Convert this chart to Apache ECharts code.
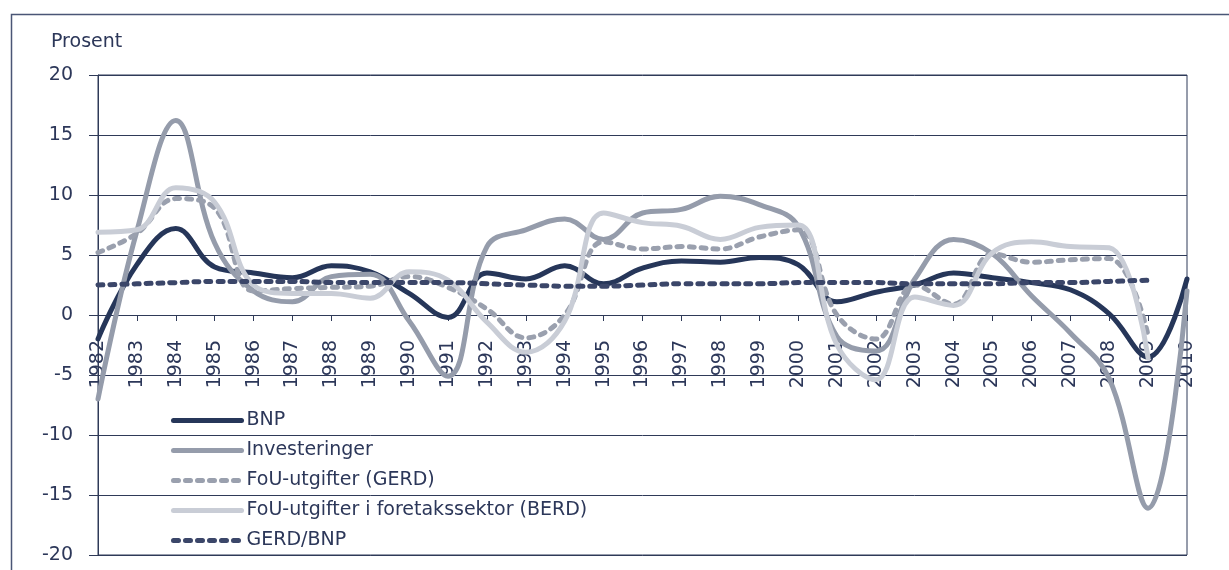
<!DOCTYPE html>
<html>
<head>
<meta charset="utf-8">
<script src="https://cdn.jsdelivr.net/npm/echarts@6/dist/echarts.min.js"></script>
<style>
  html, body { margin: 0; padding: 0; background: #fff; }
  #chart { width: 1229px; height: 570px; }
</style>
</head>
<body>
<div id="chart"></div>
<script>
// årstall langs x-aksen
const years = ['1982','1983','1984','1985','1986','1987','1988','1989','1990','1991',
  '1992','1993','1994','1995','1996','1997','1998','1999','2000','2001',
  '2002','2003','2004','2005','2006','2007','2008','2009','2010']

const bnp = [-2.0, 4.2, 7.2, 4.0, 3.5, 3.1, 4.1, 3.6, 1.8, -0.2,
  3.5, 3.0, 4.1, 2.6, 3.9, 4.5, 4.4, 4.8, 4.2, 1.1,
  1.9, 2.5, 3.5, 3.1, 2.7, 2.1, 0.1, -3.5, 3.0]

const investeringer = [-7.0, 7.0, 16.2, 6.0, 2.0, 1.1, 3.2, 3.4, -0.5, -5.1,
  5.7, 7.1, 8.0, 6.3, 8.5, 8.8, 9.9, 9.2, 7.4, -1.8,
  -3.0, 3.0, 6.3, 5.1, 1.6, -1.5, -5.3, -16.1, 2.0]

const gerd = [5.2, 6.8, 9.7, 8.9, 2.0, 2.2, 2.3, 2.4, 3.2, 2.3,
  0.5, -1.9, 0.0, 6.1, 5.5, 5.7, 5.5, 6.5, 7.1, 0.0,
  -2.0, 2.5, 0.9, 5.1, 4.4, 4.6, 4.7, -1.7, null]

const berd = [6.9, 7.1, 10.6, 9.4, 2.5, 1.8, 1.8, 1.4, 3.6, 2.9,
  -0.6, -3.1, -0.5, 8.5, 7.7, 7.4, 6.3, 7.3, 7.5, -2.5,
  -5.4, 1.5, 0.8, 5.2, 6.1, 5.7, 5.6, -3.6, null]

const gerdBnp = [2.5, 2.6, 2.7, 2.8, 2.8, 2.8, 2.7, 2.7, 2.7, 2.7,
  2.6, 2.5, 2.4, 2.4, 2.5, 2.6, 2.6, 2.6, 2.7, 2.7,
  2.7, 2.6, 2.6, 2.6, 2.7, 2.7, 2.8, 2.9, null]

const textColor = '#2c3759'
const lineColor = '#2f3a58'
const font = 'DejaVu Sans'

const chart = echarts.init(document.getElementById('chart'))

function makeLine(name, data, color, dashed) {
  return {
    name: name,
    type: 'line',
    data: data,
    smooth: 0.4,
    symbol: 'none',
    showSymbol: false,
    connectNulls: false,
    animation: false,
    lineStyle: {
      color: color,
      width: 5,
      type: dashed ? [5, 7] : 'solid',
      cap: 'round'
    },
    itemStyle: { color: color }
  }
}

chart.setOption({
  backgroundColor: '#fff',
  textStyle: { fontFamily: font },
  title: {
    text: 'Prosent',
    left: 46,
    top: 28,
    textStyle: { fontFamily: font, fontSize: 19, fontWeight: 'normal', color: textColor }
  },
  graphic: [{
    type: 'rect',
    shape: { x: 11.5, y: 14.5, width: 1250, height: 600 },
    style: { fill: 'none', stroke: '#4a5676', lineWidth: 1.5 },
    silent: true
  }],
  legend: {
    orient: 'vertical',
    left: 166,
    top: 406,
    height: 200,
    itemWidth: 68,
    itemHeight: 14,
    itemGap: 11,
    itemStyle: { opacity: 0 },
    lineStyle: { width: 5 },
    textStyle: { fontFamily: font, fontSize: 19, color: textColor },
    data: ['BNP', 'Investeringer', 'FoU-utgifter (GERD)',
      'FoU-utgifter i foretakssektor (BERD)', 'GERD/BNP']
  },
  // grid 0: selve plottet, grid 1: bare for årstallene under nullinjen
  grid: [{
    left: 98,
    right: 42,
    top: 75,
    bottom: 15,
    outerBoundsMode: 'none',
    containLabel: false,
    show: true,
    borderColor: lineColor,
    borderWidth: 1
  }, {
    left: 98,
    right: 42,
    top: 75,
    bottom: 255,
    outerBoundsMode: 'none',
    containLabel: false
  }],
  xAxis: [{
    type: 'category',
    gridIndex: 0,
    data: years,
    boundaryGap: false,
    axisLine: { onZero: true, lineStyle: { color: lineColor, width: 1 } },
    axisTick: { show: false },
    axisLabel: { show: false },
    splitLine: { show: false }
  }, {
    type: 'category',
    gridIndex: 1,
    data: years,
    boundaryGap: false,
    position: 'bottom',
    axisLine: { show: true, onZero: false, lineStyle: { color: lineColor, width: 1 } },
    axisTick: { show: true, length: 6, lineStyle: { color: lineColor } },
    axisLabel: {
      interval: 0,
      rotate: 90,
      margin: 25,
      fontFamily: font,
      fontSize: 19,
      color: textColor
    },
    splitLine: { show: false }
  }],
  yAxis: [{
    type: 'value',
    gridIndex: 0,
    min: -20,
    max: 20,
    interval: 5,
    axisLine: { show: true, lineStyle: { color: lineColor, width: 1 } },
    axisTick: { show: true, length: 9, lineStyle: { color: lineColor } },
    axisLabel: { margin: 25, fontFamily: font, fontSize: 19, color: textColor },
    splitLine: { show: true, lineStyle: { color: lineColor, width: 1 } }
  }, {
    type: 'value',
    gridIndex: 1,
    min: 0,
    max: 1,
    show: false
  }],
  series: [
    makeLine('BNP', bnp, '#263659', false),
    makeLine('Investeringer', investeringer, '#959cab', false),
    makeLine('FoU-utgifter (GERD)', gerd, '#9aa0ae', true),
    makeLine('FoU-utgifter i foretakssektor (BERD)', berd, '#c9cdd6', false),
    makeLine('GERD/BNP', gerdBnp, '#3b4669', true)
  ]
})
</script>
</body>
</html>
